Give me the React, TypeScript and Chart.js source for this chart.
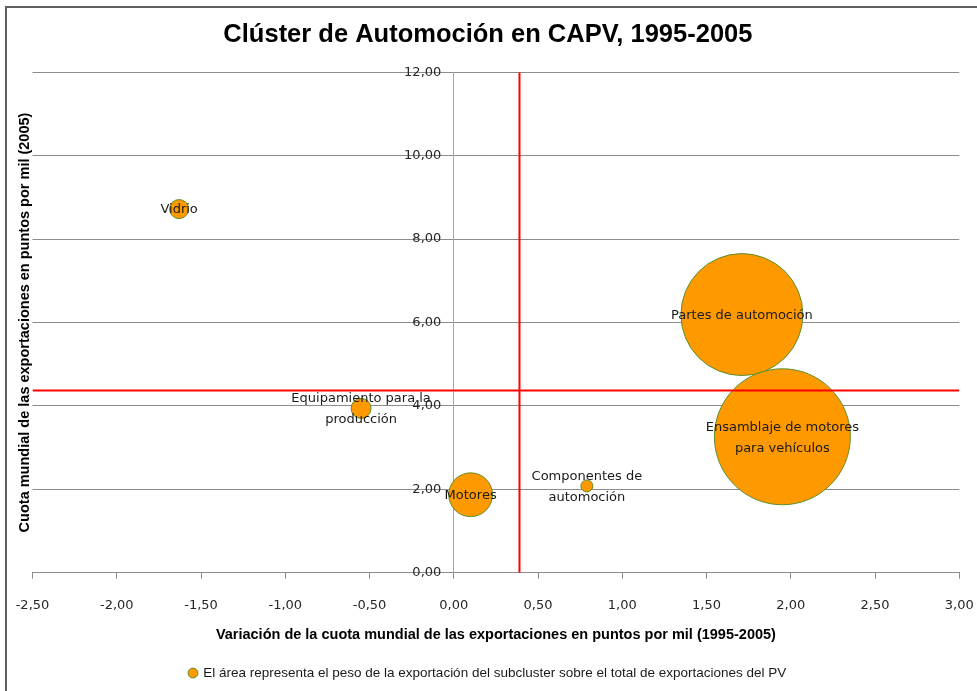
import React, { useEffect, useRef } from "react";
import { Chart, registerables } from "chart.js";

Chart.register(...registerables);

// ---- data ----
const subclusters = [
  "Vidrio",
  "Equipamiento para la producción",
  "Motores",
  "Componentes de automoción",
  "Partes de automoción",
  "Ensamblaje de motores para vehículos",
];
const labelLines = [
  ["Vidrio"],
  ["Equipamiento para la", "producción"],
  ["Motores"],
  ["Componentes de", "automoción"],
  ["Partes de automoción"],
  ["Ensamblaje de motores", "para vehículos"],
];
// variación de la cuota mundial (1995-2005), puntos por mil
const variacion = [-1.63, -0.55, 0.1, 0.79, 1.71, 1.95];
// cuota mundial 2005, puntos por mil
const cuota2005 = [8.72, 3.94, 1.87, 2.08, 6.19, 3.26];
// peso de la exportación del subcluster (% del total PV) -> área de la burbuja
const peso = [1.0, 1.1, 5.3, 0.4, 41.1, 51.1];
// medias (líneas rojas)
const mediaVariacion = 0.39;
const mediaCuota = 4.37;

const xMin = -2.5;
const xMax = 3.0;
const xStep = 0.5;
const yMin = 0;
const yMax = 12;
const yStep = 2;

const TITLE = "Clúster de Automoción en CAPV, 1995-2005";
const X_TITLE =
  "Variación de la cuota mundial de las exportaciones en puntos por mil (1995-2005)";
const Y_TITLE = "Cuota mundial de las exportaciones en puntos por mil (2005)";
const LEGEND =
  "El área representa el peso de la exportación del subcluster sobre el total de exportaciones del PV";

const MAX_RADIUS = 68;
const Y_LABEL_GAP = -0.074; // where the y tick labels end (left of the axis at x = 0)
const fmt = (v: number) => Number(v).toFixed(2).replace(".", ",");

const noPad = (s: any) => {
  s.paddingLeft = 0;
  s.paddingRight = 0;
  s.paddingTop = 0;
  s.paddingBottom = 0;
};

const bubbleLabels = {
  id: "bubbleLabels",
  afterDatasetsDraw(chart: any) {
    const meta = chart.getDatasetMeta(0);
    const ctx = chart.ctx;
    ctx.save();
    ctx.font = "13px 'DejaVu Sans'";
    ctx.fillStyle = "#1a1a1a";
    ctx.textAlign = "center";
    ctx.textBaseline = "middle";
    const lh = 21;
    meta.data.forEach((el: any, i: number) => {
      const lines = labelLines[i];
      const n = lines.length;
      lines.forEach((t, j) => {
        const dy = (j - (n - 1) / 2) * lh + 1;
        ctx.fillText(t, el.x, el.y + dy);
      });
    });
    ctx.restore();
  },
};

export default function App() {
  const ref = useRef<HTMLCanvasElement | null>(null);
  useEffect(() => {
    if (!ref.current) return;
    const maxPeso = Math.max(...peso);
    const chart = new Chart(ref.current, {
      type: "bubble",
      data: {
        datasets: [
          {
            type: "bubble",
            label: LEGEND,
            data: subclusters.map((_, i) => ({
              x: variacion[i],
              y: cuota2005[i],
              r: MAX_RADIUS * Math.sqrt(peso[i] / maxPeso),
            })),
            backgroundColor: "#FF9900",
            borderColor: "#5B8F2A",
            borderWidth: 1,
            xAxisID: "x",
            yAxisID: "y",
            order: 2,
          } as any,
          {
            type: "scatter",
            label: "media x",
            data: [
              { x: mediaVariacion, y: yMin },
              { x: mediaVariacion, y: yMax },
            ],
            showLine: true,
            borderColor: "#FF0000",
            backgroundColor: "#FF0000",
            borderWidth: 2,
            pointRadius: 0,
            xAxisID: "x",
            yAxisID: "y",
            order: 1,
          } as any,
          {
            type: "scatter",
            label: "media y",
            data: [
              { x: xMin, y: mediaCuota },
              { x: xMax, y: mediaCuota },
            ],
            showLine: true,
            borderColor: "#FF0000",
            backgroundColor: "#FF0000",
            borderWidth: 2,
            pointRadius: 0,
            xAxisID: "x",
            yAxisID: "y",
            order: 1,
          } as any,
        ],
      },
      options: {
        responsive: false,
        animation: false,
        events: [],
        layout: {
          autoPadding: false,
          padding: { left: 16.5, right: 17.7, top: 0, bottom: 1.2 },
        },
        plugins: {
          title: {
            display: true,
            text: TITLE,
            color: "#000",
            font: { family: "'Liberation Sans'", size: 25.5, weight: "bold" },
            padding: { top: 20, bottom: 21.7 },
          },
          legend: {
            display: true,
            position: "bottom",
            labels: {
              filter: (item: any) => item.datasetIndex === 0,
              usePointStyle: true,
              pointStyle: "circle",
              boxWidth: 7,
              boxHeight: 7,
              color: "#1a1a1a",
              font: { family: "'Liberation Sans'", size: 13.5 },
              padding: 10,
            },
          },
          tooltip: { enabled: false },
        },
        scales: {
          x: {
            type: "linear",
            position: "bottom",
            min: xMin,
            max: xMax,
            afterFit: noPad,
            ticks: {
              stepSize: xStep,
              callback: (v: any) => fmt(v),
              color: "#262626",
              font: { family: "'DejaVu Sans'", size: 13 },
              padding: 18.7,
              maxRotation: 0,
              autoSkip: false,
            },
            grid: {
              drawOnChartArea: false,
              drawTicks: true,
              tickLength: 6,
              color: "#8c8c8c",
            },
            border: { display: true, color: "#8c8c8c", width: 1 },
            title: {
              display: true,
              text: X_TITLE,
              color: "#000",
              font: { family: "'Liberation Sans'", size: 14.5, weight: "bold" },
              padding: { top: -5.3, bottom: 12.5 },
            },
          },
          y: {
            type: "linear",
            axis: "y",
            position: { x: 0 } as any,
            min: yMin,
            max: yMax,
            afterFit: noPad,
            ticks: { stepSize: yStep, display: false },
            grid: {
              drawOnChartArea: true,
              drawTicks: true,
              tickLength: 5,
              color: "#8c8c8c",
            },
            border: { display: true, color: "#a6a6a6", width: 1 },
          },
          yTicks: {
            type: "linear",
            axis: "y",
            position: { x: Y_LABEL_GAP } as any,
            min: yMin,
            max: yMax,
            afterFit: noPad,
            ticks: {
              stepSize: yStep,
              callback: (v: any) => fmt(v),
              color: "#262626",
              font: { family: "'DejaVu Sans'", size: 13 },
            },
            grid: { display: false },
            border: { display: false },
          },
          y2: {
            type: "linear",
            axis: "y",
            position: "left",
            display: true,
            afterFit: (s: any) => {
              noPad(s);
              s.width = 16;
            },
            ticks: { display: false },
            grid: { display: false },
            border: { display: false },
            title: {
              display: true,
              text: Y_TITLE,
              color: "#000",
              font: { family: "'Liberation Sans'", size: 14.5, weight: "bold" },
              padding: { top: 0, bottom: 0 },
            },
          },
        },
      } as any,
      plugins: [bubbleLabels],
    });
    return () => chart.destroy();
  }, []);

  return (
    <div
      style={{
        position: "fixed",
        left: 0,
        top: 0,
        width: 977,
        height: 691,
        background: "#fff",
        overflow: "hidden",
      }}
    >
      <div
        style={{
          position: "absolute",
          left: 5,
          top: 6,
          width: 1100,
          height: 1100,
          border: "2px solid #5f5f5f",
          boxSizing: "border-box",
        }}
      />
      <canvas
        ref={ref}
        width={977}
        height={691}
        style={{ position: "absolute", left: 0, top: 0, width: 977, height: 691 }}
      />
    </div>
  );
}
